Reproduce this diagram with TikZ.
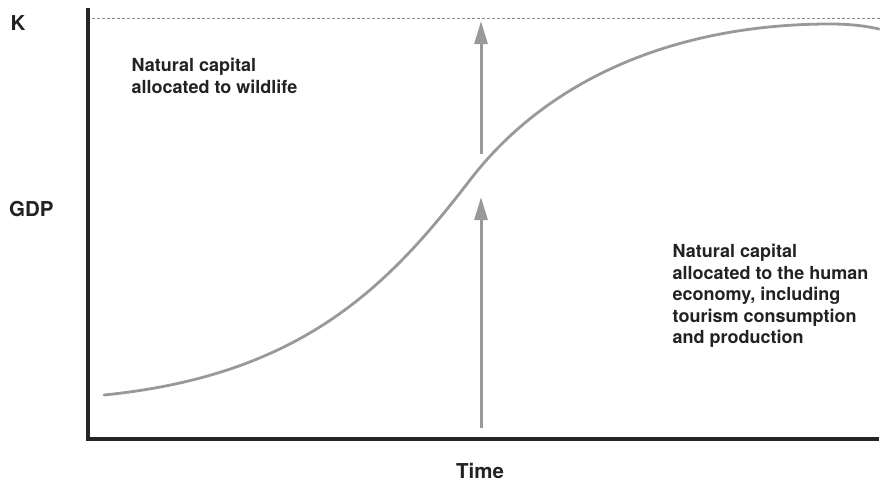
\documentclass[tikz,border=0pt]{standalone}
\usepackage{fontspec}
\setmainfont{TeX Gyre Heros}
\usetikzlibrary{arrows.meta}
\definecolor{axiscol}{HTML}{262626}
\definecolor{curvecol}{HTML}{999999}
\definecolor{dashcol}{HTML}{8A8A8A}
\definecolor{txtcol}{HTML}{222222}
\tikzset{
  axisline/.style={draw=axiscol, line width=3.2pt},
  sigmoid/.style={draw=curvecol, line width=2.8pt, line cap=round},
  klevel/.style={draw=dashcol, line width=0.8pt, dash pattern=on 3pt off 2pt},
  uparrow/.style={draw=curvecol, line width=3pt, -{Triangle[length=23pt,width=13pt]}},
  biglabel/.style={text=txtcol, font=\fontsize{20.5}{24}\selectfont\bfseries, inner sep=0pt},
  bodytext/.style={text=txtcol, font=\fontsize{18}{21.5}\selectfont\bfseries, inner sep=0pt, align=left, anchor=north west}
}
\begin{document}
\begin{tikzpicture}[x=1pt,y=-1pt]
\useasboundingbox[fill=white] (0,0) rectangle (880,483);
% axes
\coordinate (ytop) at (88,8);
\coordinate (origin) at (88,439);
\coordinate (xend) at (879,439);
\draw[axisline] (ytop) -- (origin) -- (xend);
% K level
\coordinate (kstart) at (92,18);
\coordinate (kend) at (880,18);
\draw[klevel] (kstart) -- (kend);
% curve
\coordinate (c0) at (104,395);
\coordinate (cinf) at (470,180);
\coordinate (cpeak) at (830,24);
\coordinate (cend) at (879,29);
\draw[sigmoid] (c0) .. controls (304,375) and (390,284) .. (cinf)
  .. controls (550,76) and (680,24) .. (cpeak)
  .. controls (855,24) and (870,27) .. (cend);
% arrows
\coordinate (a1s) at (481,154);
\coordinate (a1e) at (481,21);
\coordinate (a2s) at (481,428);
\coordinate (a2e) at (481,197);
\draw[uparrow] (a1s) -- (a1e);
\draw[uparrow] (a2s) -- (a2e);
% labels
\node[biglabel, anchor=base west] (K) at (10.5,30) {K};
\node[biglabel, anchor=base west] (GDP) at (9,216) {GDP};
\node[biglabel, anchor=base] (time) at (480,478) {Time};
\node[bodytext] (wild) at (131.5,58) {Natural capital\\allocated to wildlife};
\node[bodytext] (human) at (672.5,244) {Natural capital\\allocated to the human\\economy, including\\tourism consumption\\and production};
\end{tikzpicture}
\end{document}
